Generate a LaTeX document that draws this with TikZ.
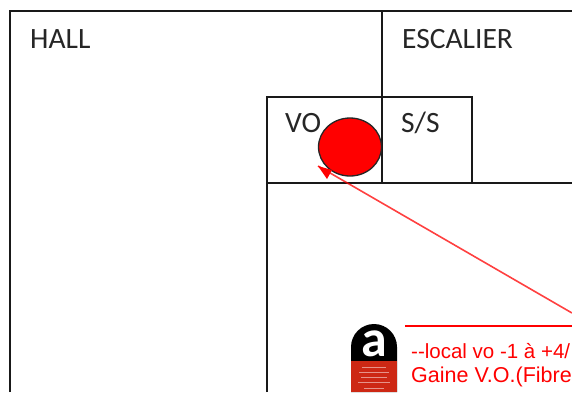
\documentclass[tikz,border=0pt]{standalone}
\usetikzlibrary{shapes.geometric}
\usepackage{fontspec}
\setmainfont{Carlito}
\newfontfamily\redfont{Liberation Sans}
\definecolor{sigred}{RGB}{205,40,20}
\tikzset{
  wall/.style={draw=black!90,line width=1.3pt},
  room/.style={inner sep=0pt,anchor=base west,font=\fontsize{29.5}{30}\selectfont,text=black!85},
  redtext/.style={inner sep=0pt,anchor=base west,text=red,font=\redfont\fontsize{20.5}{22}\selectfont},
  pointer/.style={draw=red,line width=1.6pt,opacity=.75}
}
\begin{document}
\begin{tikzpicture}[x=1pt,y=-1pt]
\useasboundingbox (0,0) rectangle (572,392);
\clip (0,0) rectangle (572,392);
\fill[white] (0,0) rectangle (572,392);
% walls
\draw[wall] (10,392) -- (10,11) -- (572,11);
\draw[wall] (382,11) -- (382,183);
\draw[wall] (267,183) -- (267,97) -- (472,97) -- (472,183);
\draw[wall] (267,392) -- (267,183) -- (572,183);
% labels
\node[room] (hall) at (30,48) {HALL};
\node[room] (esc) at (402,48) {ESCALIER};
\node[room] (vo) at (285,132) {VO};
\node[room] (ss) at (401,132) {S/S};
% red marker
\node[draw=black!85,line width=1.3pt,fill=red,ellipse,minimum width=63pt,minimum height=58pt,inner sep=0pt] (mark) at (350,147) {};
% pointer
\coordinate (ptail) at (572,313);
\coordinate (ptip) at (318,166);
\draw[pointer] (ptail) -- (ptip);
\fill[red] (ptip) -- (332,170) -- (327,179) -- cycle;
% sign
\fill[black] (351,392) -- (351,347) arc[start angle=180,end angle=360,x radius=23,y radius=23] -- (397,392) -- cycle;
\fill[sigred] (351,361) rectangle (397,392);
\node[inner sep=0pt,anchor=base,text=white,font=\bfseries\fontsize{52}{52}\selectfont] (sigA) at (374,356) {a};
\foreach \yy/\w in {367/12,372/15,377/13,382/16,388/10}
  \draw[white,opacity=.5,line width=1pt] (374-\w,\yy) -- (374+\w,\yy);
% red note
\draw[red,line width=1.2pt] (405,326) -- (572,326);
\node[redtext] (l1) at (411,358) {--local vo -1 à +4/};
\node[redtext,font=\redfont\fontsize{21.5}{22}\selectfont] (l2) at (411,382) {Gaine V.O.(Fibre};
\end{tikzpicture}
\end{document}
